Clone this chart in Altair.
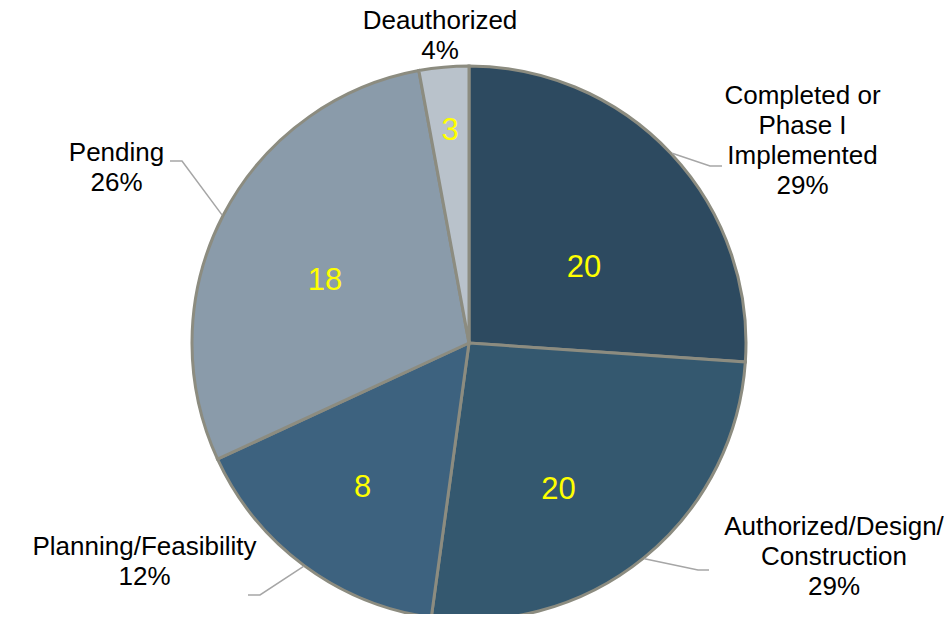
import math
import altair as alt
import pandas as pd

# ---------------- data ----------------
categories = [
    "Completed or Phase I Implemented",
    "Authorized/Design/Construction",
    "Planning/Feasibility",
    "Pending",
    "Deauthorized",
]
# slice sizes as drawn in the picture
slice_values = [18, 18, 11, 20, 2]
# numbers printed in the slices
label_counts = [20, 20, 8, 18, 3]
# category text as broken over lines in the labels
label_names = [
    "Completed or\nPhase I\nImplemented",
    "Authorized/Design/\nConstruction",
    "Planning/Feasibility",
    "Pending",
    "Deauthorized",
]

# ---------------- style / layout ----------------
colors = ["#2D4A60", "#34586F", "#3D627F", "#8A9BAA", "#B9C2CB"]
FONT = "Liberation Sans"
CX, CY, R = 469, 343, 277          # pie centre / radius (page pixels)
W, H = 936, 606
inner_offsets = [(115, -66), (89.5, 156), (-106.5, 154), (-144, -53), (-19, -203)]
outer_offsets = [(333.5, -239), (365, 192), (-324.5, 212), (-352.5, -182), (-29, -314)]
leader_bends = [
    ((241, -177), (253, -177)),
    ((229, 227), (240, 227)),
    ((-209, 252), (-221, 252)),
    ((-287, -182), (-299, -182)),
    None,
]

total_counts = sum(label_counts)
total_slices = sum(slice_values)

pie_df = pd.DataFrame({
    "category": categories,
    "value": slice_values,
    "idx": list(range(len(categories))),
})

inner_rows, outer_rows, line_rows = [], [], []
cum = 0
for i, cat in enumerate(categories):
    mid = (cum + slice_values[i] / 2) / total_slices * 2 * math.pi
    cum += slice_values[i]
    inner_rows.append({"x": CX + inner_offsets[i][0], "y": CY + inner_offsets[i][1],
                       "txt": str(label_counts[i])})
    pct = round(label_counts[i] / total_counts * 100)
    outer_rows.append({"x": CX + outer_offsets[i][0], "y": CY + outer_offsets[i][1],
                       "txt": f"{label_names[i]}\n{pct}%"})
    if leader_bends[i] is not None:
        ex = CX + (R + 1) * math.sin(mid)
        ey = CY - (R + 1) * math.cos(mid)
        pts = [(ex, ey)] + [(CX + dx, CY + dy) for dx, dy in leader_bends[i]]
        for k, (px, py) in enumerate(pts):
            line_rows.append({"cat": cat, "k": k, "x": px, "y": py})

inner_df = pd.DataFrame(inner_rows)
outer_df = pd.DataFrame(outer_rows)
line_df = pd.DataFrame(line_rows)

xs = alt.Scale(domain=[8, 8 + W], nice=False, zero=False)
ys = alt.Scale(domain=[8, 8 + H], nice=False, zero=False, reverse=True)

pie = alt.Chart(pie_df).mark_arc(
    outerRadius=R, stroke="#8C8C80", strokeWidth=3
).encode(
    theta=alt.Theta("value:Q", stack=True),
    color=alt.Color("category:N", scale=alt.Scale(domain=categories, range=colors), legend=None),
    order=alt.Order("idx:Q"),
    x=alt.value(CX - 8),
    y=alt.value(CY - 8),
)

lines = alt.Chart(line_df).mark_line(color="#A6A6A6", strokeWidth=1.5).encode(
    x=alt.X("x:Q", scale=xs, axis=None),
    y=alt.Y("y:Q", scale=ys, axis=None),
    detail="cat:N",
    order="k:Q",
)

outer = alt.Chart(outer_df).mark_text(
    font=FONT, fontSize=26, color="#000000", align="center", baseline="alphabetic",
    lineBreak="\n", lineHeight=30,
).encode(
    x=alt.X("x:Q", scale=xs, axis=None),
    y=alt.Y("y:Q", scale=ys, axis=None),
    text="txt:N",
)

inner = alt.Chart(inner_df).mark_text(
    font=FONT, fontSize=31, color="#FFFF00", align="center", baseline="alphabetic",
).encode(
    x=alt.X("x:Q", scale=xs, axis=None),
    y=alt.Y("y:Q", scale=ys, axis=None),
    text="txt:N",
)

chart = alt.layer(pie, lines, outer, inner).properties(
    width=W, height=H, autosize="none", padding=0
).configure_view(stroke=None)

chart.save("out.html", embed_options={"renderer": "svg", "actions": False})
